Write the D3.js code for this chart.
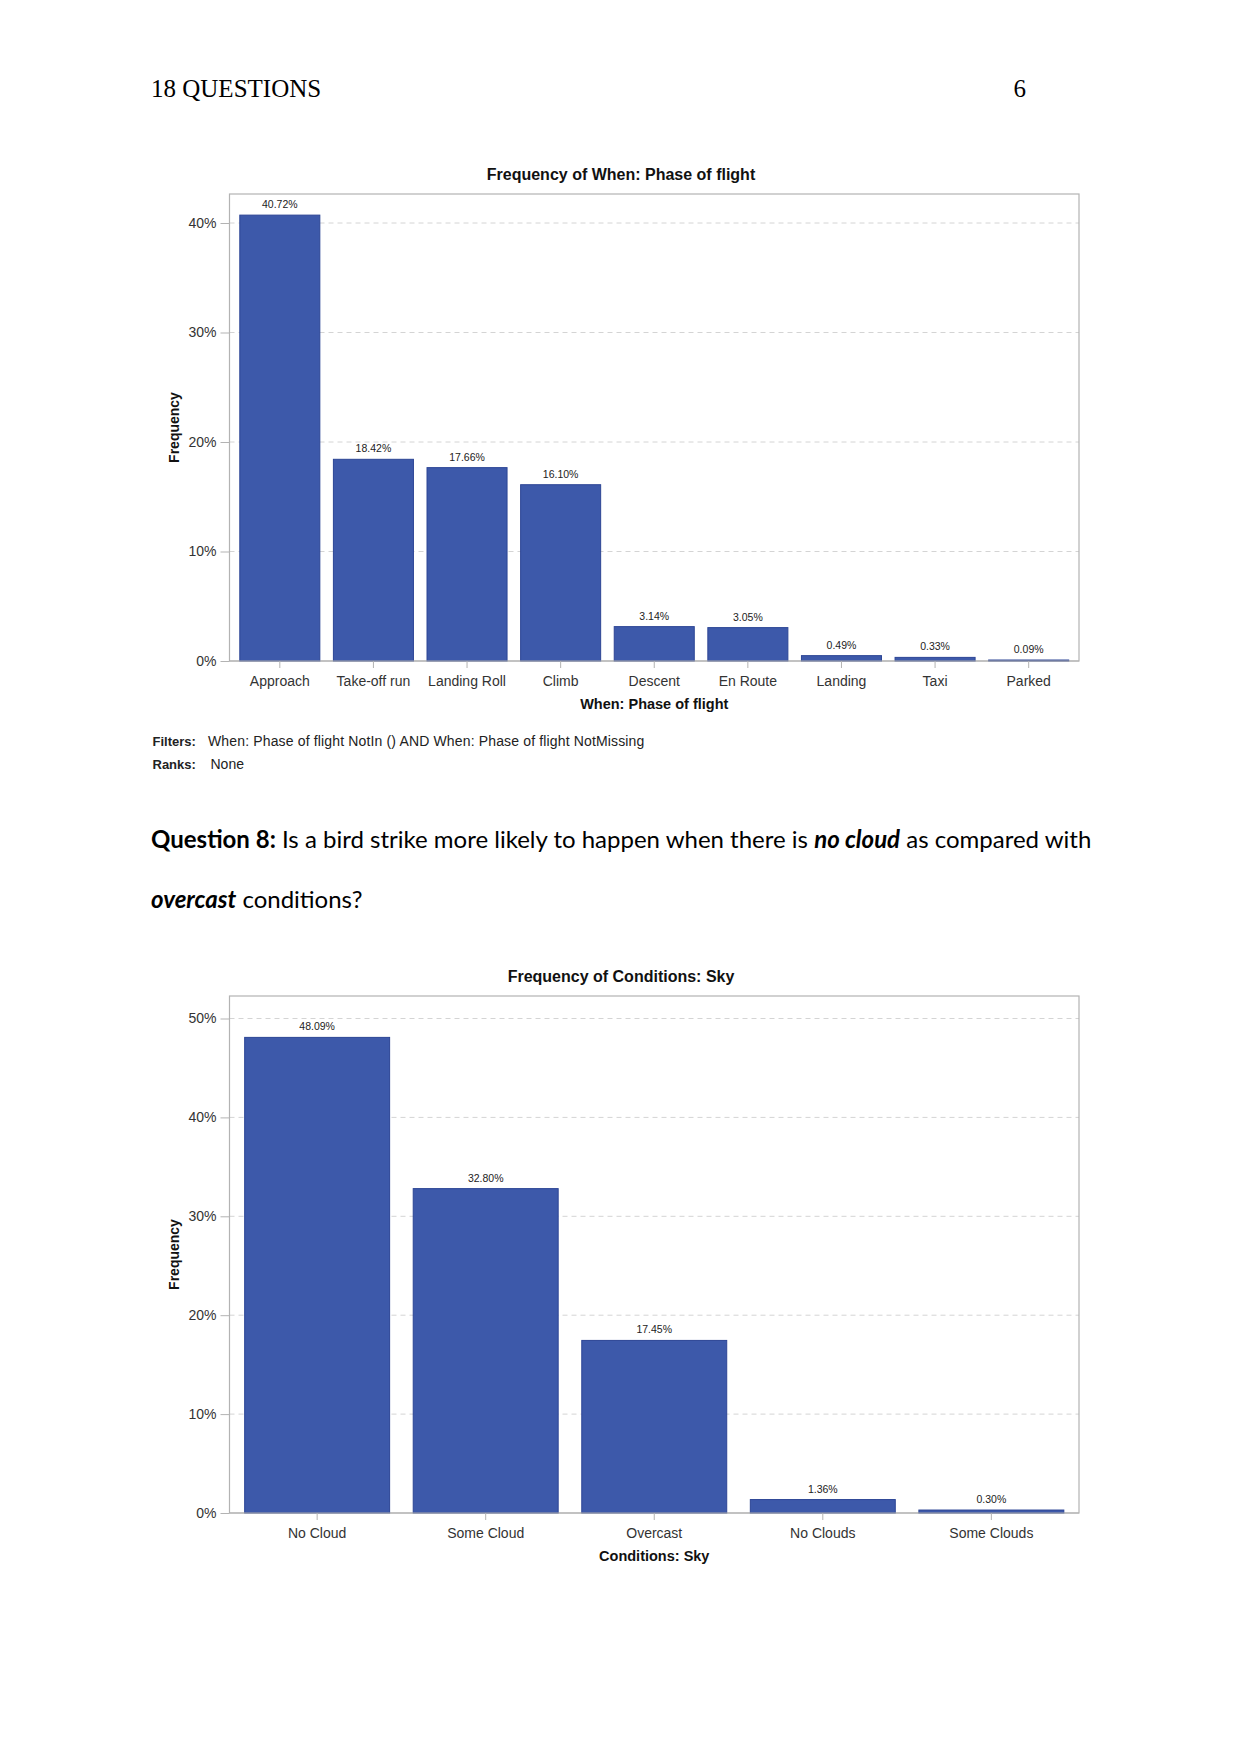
<!DOCTYPE html>
<html>
<head>
<meta charset="utf-8">
<script src="https://cdn.jsdelivr.net/npm/d3@7/dist/d3.min.js"></script>
<style>
  html, body { margin: 0; padding: 0; background: #fff; }
  svg { display: block; }
</style>
</head>
<body>
<svg id="page" width="1241" height="1754"></svg>
<script>
// ---------- Data ----------
const phaseCategories = ["Approach", "Take-off run", "Landing Roll", "Climb", "Descent", "En Route", "Landing", "Taxi", "Parked"];
const phaseValues = [40.72, 18.42, 17.66, 16.10, 3.14, 3.05, 0.49, 0.33, 0.09];
const phaseTicks = [0, 10, 20, 30, 40];

const skyCategories = ["No Cloud", "Some Cloud", "Overcast", "No Clouds", "Some Clouds"];
const skyValues = [48.09, 32.80, 17.45, 1.36, 0.30];
const skyTicks = [0, 10, 20, 30, 40, 50];

const BAR = "#3d59aa";
const BAR_EDGE = "#2c4595";
const FRAME = "#b3b3b3";
const GRID = "#d4d4d4";
const SANS = "'Liberation Sans', Arial, sans-serif";

const svg = d3.select("#page");

// ---------- Page header ----------
svg.append("text").attr("x", 151).attr("y", 97)
  .attr("font-family", "'Liberation Serif', 'Times New Roman', serif")
  .attr("font-size", 25).attr("fill", "#000").text("18 QUESTIONS");
svg.append("text").attr("x", 1026).attr("y", 97).attr("text-anchor", "end")
  .attr("font-family", "'Liberation Serif', 'Times New Roman', serif")
  .attr("font-size", 25).attr("fill", "#000").text("6");

// ---------- Chart drawing ----------
function drawChart(opt) {
  const g = svg.append("g");
  const x = d3.scaleBand().domain(opt.categories)
    .range([opt.left, opt.right]).paddingInner(opt.padIn).paddingOuter(opt.padOut);
  const y = d3.scaleLinear().domain([0, opt.refVal]).range([opt.bottom, opt.refY]);

  // gridlines
  g.append("g").selectAll("line").data(opt.ticks.filter(d => d > 0)).join("line")
    .attr("x1", opt.left).attr("x2", opt.right)
    .attr("y1", d => y(d)).attr("y2", d => y(d))
    .attr("stroke", GRID).attr("stroke-width", 1).attr("stroke-dasharray", "5,4");

  // frame
  g.append("rect").attr("x", opt.left).attr("y", opt.top)
    .attr("width", opt.right - opt.left).attr("height", opt.bottom - opt.top)
    .attr("fill", "none").attr("stroke", FRAME).attr("stroke-width", 1.2);

  // bars
  g.append("g").selectAll("rect").data(opt.values).join("rect")
    .attr("x", (d, i) => x(opt.categories[i]))
    .attr("y", d => y(d))
    .attr("width", x.bandwidth())
    .attr("height", d => y(0) - y(d))
    .attr("fill", BAR).attr("stroke", BAR_EDGE).attr("stroke-width", 1);

  // bar labels
  g.append("g").selectAll("text").data(opt.values).join("text")
    .attr("x", (d, i) => x(opt.categories[i]) + x.bandwidth() / 2)
    .attr("y", d => y(d) - 7)
    .attr("text-anchor", "middle")
    .attr("font-family", SANS).attr("font-size", 10.5).attr("fill", "#222")
    .text(d => d.toFixed(2) + "%");

  // y axis
  const yAxis = d3.axisLeft(y).tickValues(opt.ticks).tickSize(9).tickPadding(4)
    .tickFormat(d => d + "%");
  const ya = g.append("g").attr("transform", `translate(${opt.left},0)`).call(yAxis);
  ya.select(".domain").remove();
  ya.selectAll(".tick line").attr("stroke", FRAME);
  ya.selectAll(".tick text").attr("font-family", SANS).attr("font-size", 14).attr("fill", "#333");

  // x axis
  const xAxis = d3.axisBottom(x).tickSize(7).tickPadding(8);
  const xa = g.append("g").attr("transform", `translate(0,${opt.bottom})`).call(xAxis);
  xa.select(".domain").attr("stroke", FRAME).attr("d", `M${opt.left},0H${opt.right}`);
  xa.selectAll(".tick line").attr("stroke", FRAME);
  xa.selectAll(".tick text").attr("font-family", SANS).attr("font-size", 14).attr("fill", "#333");

  // title
  g.append("text").attr("x", 621).attr("y", opt.titleY).attr("text-anchor", "middle")
    .attr("font-family", SANS).attr("font-size", 16).attr("font-weight", "bold").attr("fill", "#111")
    .text(opt.title);
  // x axis title
  g.append("text").attr("x", (opt.left + opt.right) / 2).attr("y", opt.xTitleY).attr("text-anchor", "middle")
    .attr("font-family", SANS).attr("font-size", 14.5).attr("font-weight", "bold").attr("fill", "#111")
    .text(opt.xTitle);
  // y axis title
  g.append("text")
    .attr("transform", `translate(179,${(opt.top + opt.bottom) / 2}) rotate(-90)`)
    .attr("text-anchor", "middle")
    .attr("font-family", SANS).attr("font-size", 14).attr("font-weight", "bold").attr("fill", "#111")
    .text("Frequency");
}

drawChart({
  categories: phaseCategories, values: phaseValues, ticks: phaseTicks,
  left: 229.5, right: 1079, top: 194, bottom: 661, refVal: 40, refY: 223,
  padIn: 0.145, padOut: 0.11,
  title: "Frequency of When: Phase of flight", titleY: 180,
  xTitle: "When: Phase of flight", xTitleY: 709
});

// filters / ranks
const notes = svg.append("g").attr("font-family", SANS).attr("fill", "#222");
notes.append("text").attr("x", 152.5).attr("y", 745.5).attr("font-size", 13).attr("font-weight", "bold").text("Filters:");
notes.append("text").attr("x", 208).attr("y", 745.5).attr("font-size", 14).attr("letter-spacing", 0.15)
  .text("When: Phase of flight NotIn () AND When: Phase of flight NotMissing");
notes.append("text").attr("x", 152.5).attr("y", 769).attr("font-size", 13).attr("font-weight", "bold").text("Ranks:");
notes.append("text").attr("x", 210.5).attr("y", 769).attr("font-size", 14).text("None");

// question text
const q = svg.append("g").attr("font-family", "Lato, 'Open Sans', sans-serif").attr("font-size", 24).attr("fill", "#000");
const l1 = q.append("text").attr("x", 151).attr("y", 848);
l1.append("tspan").attr("font-weight", "bold").text("Question 8:");
l1.append("tspan").text(" Is a bird strike more likely to happen when there is ");
l1.append("tspan").attr("font-weight", "bold").attr("font-style", "italic").text("no cloud");
l1.append("tspan").text(" as compared with");
const l2 = q.append("text").attr("x", 151).attr("y", 908);
l2.append("tspan").attr("font-weight", "bold").attr("font-style", "italic").text("overcast");
l2.append("tspan").text(" conditions?");

drawChart({
  categories: skyCategories, values: skyValues, ticks: skyTicks,
  left: 229.5, right: 1079, top: 996, bottom: 1513, refVal: 50, refY: 1018.5,
  padIn: 0.14, padOut: 0.09,
  title: "Frequency of Conditions: Sky", titleY: 981.5,
  xTitle: "Conditions: Sky", xTitleY: 1561
});
</script>
</body>
</html>
